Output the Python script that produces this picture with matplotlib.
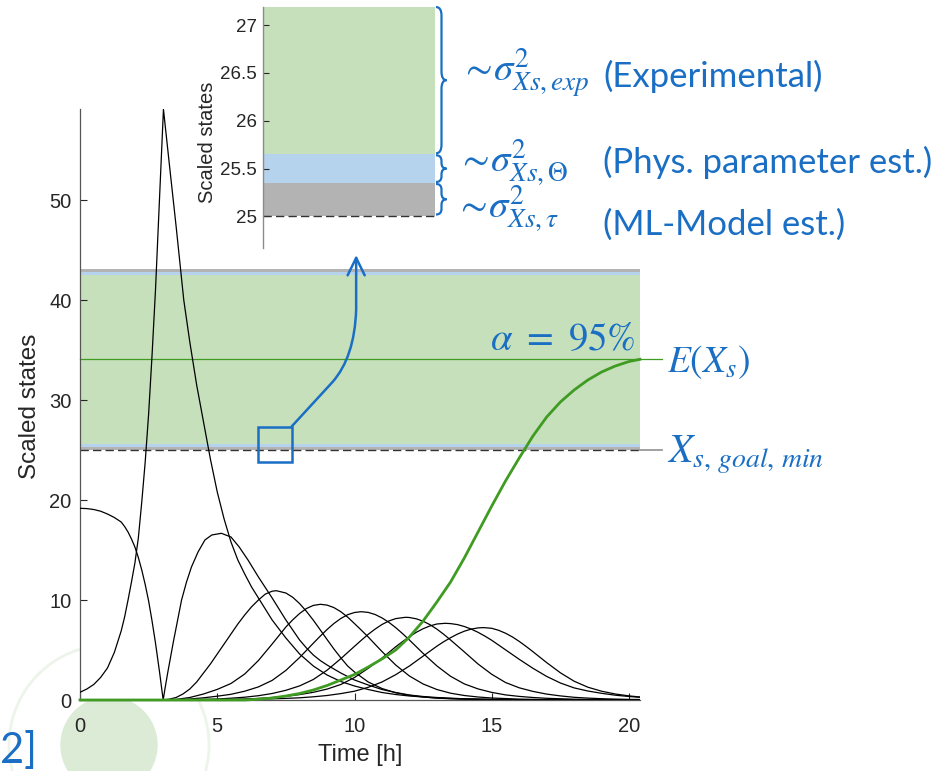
import matplotlib

matplotlib.use("Agg")
import matplotlib.pyplot as plt
from matplotlib.patches import Rectangle, FancyArrowPatch, PathPatch, Ellipse
from matplotlib.path import Path
from matplotlib.transforms import blended_transform_factory

# ---- data ----
# spike state (black)
spike_t = [0, 0.25, 0.5, 0.75, 1.0, 1.25, 1.5, 1.625, 1.75, 1.875,
           2.0, 2.125, 2.25, 2.375, 2.5, 2.625, 2.75, 2.875, 3.04, 3.25,
           3.5, 3.78, 4.0, 4.25, 4.5, 4.75, 5.0, 5.25, 5.5, 5.75,
           6.0, 6.25, 6.5, 6.75, 7.0, 7.25, 7.5, 7.75, 8.0, 8.5,
           9.0, 9.5, 10.0, 10.5, 11.0, 11.5, 12.0, 13.0, 14.0, 15.0,
           16.0, 18.0, 20.4]
spike_y = [0.77, 1.1, 1.55, 2.25, 3.2, 4.75, 6.9, 8.3, 10.0, 11.8,
           13.7, 16.2, 19.8, 23.8, 28.6, 34.5, 41.0, 48.8, 59.07, 53.7,
           47.4, 40.0, 35.8, 31.5, 27.8, 24.1, 20.8, 18.1, 15.8, 14.0,
           12.6, 11.3, 10.2, 9.1, 8.0, 7.1, 6.2, 5.4, 4.6, 3.4,
           2.5, 1.85, 1.4, 1.05, 0.75, 0.55, 0.4, 0.2, 0.1, 0.05,
           0.03, 0.01, 0.0]

# first state, reset at t = 3 (black)
first_t = [0, 0.25, 0.5, 0.75, 1.0, 1.25, 1.5, 1.625, 1.75, 1.875,
           2.0, 2.125, 2.25, 2.375, 2.5, 2.625, 2.75, 2.9, 3.03, 3.1,
           3.2, 3.3, 3.4, 3.55, 3.7, 3.88, 4.06, 4.3, 4.55, 4.8,
           5.15, 5.5, 5.8, 6.12, 6.5, 6.75, 7.0, 7.25, 7.5, 7.75,
           8.0, 8.25, 8.5, 8.75, 9.0, 9.5, 10.0, 10.5, 11.0, 11.5,
           12.0, 12.5, 13.0, 14.0, 15.0, 16.0, 18.0, 20.4]
first_y = [19.17, 19.14, 19.05, 18.88, 18.6, 18.25, 17.8, 17.35, 16.8, 16.1,
           15.3, 14.25, 13.0, 11.55, 9.9, 7.9, 5.7, 2.75, 0.0, 1.2,
           2.8, 4.3, 5.8, 7.9, 10.0, 11.8, 13.3, 14.8, 16.0, 16.5,
           16.67, 16.3, 15.3, 14.0, 12.3, 11.25, 10.2, 9.1, 8.0, 7.0,
           6.0, 5.2, 4.5, 3.95, 3.5, 2.7, 2.0, 1.5, 1.05, 0.75,
           0.5, 0.35, 0.25, 0.12, 0.06, 0.03, 0.01, 0.0]

# later states (black)
state_d_t = [3.0, 3.25, 3.5, 3.75, 4.0, 4.25, 4.5, 4.75, 5.0, 5.25, 5.5, 5.75,
             6.0, 6.25, 6.5, 6.75, 7.0, 7.15, 7.5, 7.75, 8.0, 8.25, 8.5, 8.75,
             9.0, 9.25, 9.5, 9.75, 10.0, 10.5, 11.0, 11.5, 12.0, 12.5, 13.0, 13.5,
             14.0, 15.0, 16.0, 17.0, 18.0, 20.4]
state_d_y = [0, 0.08, 0.25, 0.6, 1.1, 1.8, 2.7, 3.6, 4.6, 5.6, 6.6, 7.6,
             8.5, 9.32, 10.0, 10.59, 10.88, 10.93, 10.7, 10.27, 9.64, 8.86, 7.98, 7.02,
             6.05, 5.1, 4.22, 3.4, 2.8, 1.8, 1.15, 0.72, 0.47, 0.3, 0.19, 0.12,
             0.085, 0.045, 0.025, 0.012, 0.006, 0.001]

state_e_t = [3.0, 3.5, 4.0, 4.5, 5.0, 5.5, 6.0, 6.5, 7.0,
             7.25, 7.5, 7.75, 8.0, 8.25, 8.5, 8.76,
             9.0, 9.25, 9.5, 9.75, 10.0, 10.25, 10.5, 10.75, 11.0,
             11.5, 12.0, 12.5, 13.0, 13.5, 14.0, 14.5, 15.0,
             16.0, 17.0, 18.0, 20.4]
state_e_y = [0, 0.06, 0.25, 0.6, 1.06, 1.65, 2.6, 3.95, 5.6,
             6.45, 7.3, 8.02, 8.65, 9.15, 9.46, 9.57,
             9.49, 9.24, 8.83, 8.29, 7.64, 6.98, 6.3, 5.57, 4.85,
             3.5, 2.4, 1.6, 1.05, 0.68, 0.45, 0.3, 0.2,
             0.09, 0.04, 0.02, 0.004]

state_f_t = [3.0, 3.5, 4.0, 4.5, 5.0, 5.5, 6.0, 6.5, 7.0, 7.5, 8.0, 8.5,
             8.75, 9.0, 9.25, 9.5, 9.75, 10.0, 10.24,
             10.5, 10.75, 11.0, 11.25, 11.5, 11.75, 12.0,
             12.5, 13.0, 13.5, 14.0, 14.5, 15.0, 15.5, 16.0, 16.5, 17.0,
             18.0, 19.0, 20.4]
state_f_y = [0, 0.02, 0.1, 0.22, 0.38, 0.57, 0.88, 1.31, 1.96, 2.96, 4.25, 5.68,
             6.38, 7.05, 7.65, 8.15, 8.53, 8.75, 8.83,
             8.76, 8.55, 8.21, 7.77, 7.24, 6.64, 6.0,
             4.66, 3.41, 2.37, 1.61, 1.11, 0.76, 0.51, 0.36, 0.25, 0.17,
             0.08, 0.04, 0.015]

state_g_t = [3.0, 4.0, 5.0, 5.5, 6.0, 6.5, 7.0, 7.5, 8.0, 8.5, 9.0, 9.5, 10.0,
             10.25, 10.5, 10.75, 11.0, 11.25, 11.5, 11.86,
             12.0, 12.25, 12.5, 12.75, 13.0, 13.25, 13.5,
             14.0, 14.5, 15.0, 15.5, 16.0, 16.5, 17.0, 17.5, 18.0, 18.5, 19.0, 19.5, 20.0, 20.4]
state_g_y = [0, 0.03, 0.1, 0.18, 0.28, 0.43, 0.65, 0.97, 1.41, 2.05, 2.98, 4.13, 5.37,
             5.98, 6.57, 7.09, 7.55, 7.9, 8.14, 8.27,
             8.25, 8.12, 7.88, 7.53, 7.09, 6.57, 6.0,
             4.81, 3.6, 2.57, 1.75, 1.22, 0.86, 0.59, 0.41, 0.27, 0.19, 0.13, 0.09, 0.06, 0.05]

state_h_t = [3.0, 4.0, 5.0, 6.0, 6.5, 7.0, 7.5, 8.0, 8.5, 9.0, 9.5, 10.0, 10.5, 11.0, 11.5,
             11.75, 12.0, 12.25, 12.5, 12.75, 13.0, 13.3,
             13.5, 13.75, 14.0, 14.25, 14.5, 14.75, 15.0,
             15.5, 16.0, 16.5, 17.0, 17.5, 18.0, 18.5, 19.0, 19.5, 20.0, 20.4]
state_h_y = [0, 0.01, 0.03, 0.1, 0.16, 0.25, 0.37, 0.54, 0.77, 1.09, 1.55, 2.25, 3.17, 4.19, 5.32,
             5.84, 6.33, 6.77, 7.13, 7.41, 7.6, 7.67,
             7.64, 7.54, 7.35, 7.09, 6.77, 6.39, 5.97,
             5.02, 4.07, 3.17, 2.36, 1.7, 1.21, 0.9, 0.67, 0.48, 0.35, 0.27]

state_i_t = [3.0, 5.0, 6.0, 7.0, 7.5, 8.0, 8.5, 9.0, 9.5, 10.0, 10.5, 11.0, 11.5, 12.0, 12.5, 13.0,
             13.25, 13.5, 13.75, 14.0, 14.25, 14.5, 14.7,
             15.0, 15.25, 15.5, 15.75, 16.0, 16.25, 16.5,
             17.0, 17.5, 18.0, 18.5, 19.0, 19.5, 20.0, 20.4]
state_i_y = [0, 0.015, 0.05, 0.12, 0.16, 0.22, 0.32, 0.45, 0.64, 0.88, 1.27, 1.8, 2.53, 3.4, 4.39, 5.38,
             5.83, 6.23, 6.59, 6.88, 7.09, 7.21, 7.24,
             7.17, 6.97, 6.68, 6.31, 5.86, 5.36, 4.83,
             3.74, 2.72, 1.88, 1.28, 0.88, 0.6, 0.41, 0.3]

# product state (green)
product_t = [0, 3.0, 6.0, 6.5, 7.0, 7.5, 8.0, 8.5, 9.0, 9.5, 10.0, 10.5, 11.0, 11.5, 12.0, 12.5,
             13.0, 13.5, 14.0, 14.5, 15.0, 15.5, 16.0, 16.5, 17.0, 17.5, 18.0, 18.5, 19.0, 19.5,
             20.0, 20.4]
product_y = [0, 0, 0, 0.08, 0.2, 0.4, 0.65, 1.0, 1.45, 2.0, 2.55, 3.3, 4.1, 5.0, 6.3, 7.9,
             9.8, 11.8, 14.2, 16.8, 19.4, 21.9, 24.2, 26.4, 28.3, 29.8, 31.0, 32.0, 32.8, 33.4,
             33.85, 34.07]

expected_xs = 34.07
goal_min = 25.0
# uncertainty bands (low, high)
ml_bands = [(25.0, 25.35), (42.79, 43.14)]
phys_bands = [(25.35, 25.65), (42.49, 42.79)]
exp_bands = [(25.65, 42.49)]

x_ticks = [0, 5, 10, 15, 20]
y_ticks = [0, 10, 20, 30, 40, 50]
inset_ticks = [25, 25.5, 26, 26.5, 27]
inset_ticklabels = ["25", "25.5", "26", "26.5", "27"]

BLUE = "#1a6fc4"
GREEN = "#3f9b22"
BAND_GREEN = "#c6e0bc"
BAND_BLUE = "#b5d3ec"
BAND_GRAY = "#b3b3b3"
AX_COLOR = "#262626"

W, H = 936, 771


def fx(x):
    return x / W


def fy(y):
    return 1 - y / H


plt.rcParams.update(
    {
        "font.family": "Liberation Sans",
        "mathtext.fontset": "stix",
        "axes.unicode_minus": False,
    }
)

fig = plt.figure(figsize=(W / 100, H / 100), dpi=100)
fig.patch.set_facecolor("white")

# faint slide decoration behind the chart
fig.add_artist(Ellipse((fx(109), fy(745)), 96 / W, 96 / H, transform=fig.transFigure,
                       color="#dcebd6", zorder=-2))
fig.add_artist(Ellipse((fx(109), fy(745)), 200 / W, 200 / H, transform=fig.transFigure,
                       fill=False, edgecolor="#edf4ea", lw=2, zorder=-2))


def draw_bands(axis):
    for lo, hi in exp_bands:
        axis.axhspan(lo, hi, color=BAND_GREEN, lw=0, zorder=0)
    for lo, hi in phys_bands:
        axis.axhspan(lo, hi, color=BAND_BLUE, lw=0, zorder=0)
    for lo, hi in ml_bands:
        axis.axhspan(lo, hi, color=BAND_GRAY, lw=0, zorder=0)


# ---- main axes ----
ax = fig.add_axes([fx(80), fy(700), 560 / W, 591 / H])
draw_bands(ax)
ax.plot([0, 20.4], [goal_min, goal_min], color="#333333", lw=1.0, dashes=(6, 3), zorder=2)
ax.plot([20.4, 21.2], [goal_min, goal_min], color="#9a9a9a", lw=1.3, clip_on=False, zorder=2)
ax.plot([0, 21.2], [expected_xs, expected_xs], color=GREEN, lw=0.9, clip_on=False, zorder=2)

ax.plot(first_t, first_y, color="black", lw=0.9, zorder=3)
ax.plot(spike_t, spike_y, color="black", lw=0.9, zorder=3)
for st, sy in ((state_d_t, state_d_y), (state_e_t, state_e_y), (state_f_t, state_f_y),
               (state_g_t, state_g_y), (state_h_t, state_h_y), (state_i_t, state_i_y)):
    ax.plot(st, sy, color="black", lw=0.9, zorder=3)
ax.plot(product_t, product_y, color=GREEN, lw=2.0, zorder=4, clip_on=False)

ax.set_xlim(0, 20.4)
ax.set_ylim(0, 59.1)
ax.set_xticks(x_ticks)
ax.set_yticks(y_ticks)
ax.tick_params(direction="in", length=5, width=0.8, colors=AX_COLOR, labelsize=14.5)
ax.tick_params(axis="x", pad=12)
ax.tick_params(axis="y", pad=6)
for side in ("top", "right"):
    ax.spines[side].set_visible(False)
for side in ("left", "bottom"):
    ax.spines[side].set_color("#555555")
    ax.spines[side].set_linewidth(0.9)
ax.set_xlabel("Time [h]", fontsize=17, color=AX_COLOR, labelpad=6)
ax.set_ylabel("Scaled states", fontsize=17.5, color=AX_COLOR)
ax.yaxis.set_label_coords(-0.07, 0.497)

# zoom box and curved arrow to the inset
ax.add_patch(Rectangle((6.47, 23.8), 1.24, 3.5, fill=False, edgecolor=BLUE, lw=1.8,
                       zorder=6, clip_on=False))
arrow_path = Path(
    [(7.71, 27.35), (9.2, 31.8), (10.0, 34.3), (10.06, 39.0), (10.06, 44.5)],
    [Path.MOVETO, Path.LINETO, Path.CURVE3, Path.CURVE3, Path.LINETO],
)
ax.add_patch(FancyArrowPatch(path=arrow_path, arrowstyle="->,head_length=0.45,head_width=0.22",
                             mutation_scale=28, color=BLUE, lw=1.8, zorder=6, clip_on=False))

# ---- inset axes ----
ax_in = fig.add_axes([fx(262.7), fy(248), 172.3 / W, 241 / H])
draw_bands(ax_in)
ax_in.plot([6.47, 7.71], [goal_min, goal_min], color="#333333", lw=1.0, dashes=(6, 3), zorder=2)
ax_in.set_xlim(6.47, 7.71)
ax_in.set_ylim(24.67, 27.19)
ax_in.set_xticks([])
ax_in.set_yticks(inset_ticks)
ax_in.set_yticklabels(inset_ticklabels)
ax_in.tick_params(direction="in", length=4, width=0.8, colors=AX_COLOR, labelsize=13.5, pad=4)
for side in ("top", "right", "bottom"):
    ax_in.spines[side].set_visible(False)
ax_in.spines["left"].set_color("#8c8c8c")
ax_in.spines["left"].set_linewidth(1.0)
ax_in.set_ylabel("Scaled states", fontsize=14.5, color=AX_COLOR)
ax_in.yaxis.set_label_coords(-0.265, 0.44)

# braces right of the inset
brace_tf = blended_transform_factory(fig.transFigure, ax_in.transData)


def brace(y0, y1, r):
    xl, xm, xt = fx(436), fx(441.5), fx(446.5)
    ym = 0.5 * (y0 + y1)
    verts = [(xl, y1), (xm, y1), (xm, y1 - r), (xm, ym + r), (xm, ym), (xt, ym),
             (xm, ym), (xm, ym - r), (xm, y0 + r), (xm, y0), (xl, y0)]
    codes = [Path.MOVETO, Path.CURVE3, Path.CURVE3, Path.LINETO, Path.CURVE3, Path.CURVE3,
             Path.CURVE3, Path.CURVE3, Path.LINETO, Path.CURVE3, Path.CURVE3]
    fig.add_artist(PathPatch(Path(verts, codes), transform=brace_tf, fill=False,
                             edgecolor=BLUE, lw=1.6, clip_on=False))


brace(25.66, 27.19, 0.09)
brace(25.36, 25.64, 0.06)
brace(25.02, 25.34, 0.06)

# ---- annotation texts ----
math_kw = dict(color=BLUE, fontsize=28, ha="left", va="baseline")
fig.text(fx(460), fy(82), r"$\sim\!\sigma^2_{Xs,exp}$", **math_kw)
fig.text(fx(457), fy(172), r"$\sim\!\sigma^2_{Xs,\Theta}$", **math_kw)
fig.text(fx(455), fy(218), r"$\sim\!\sigma^2_{Xs,\tau}$", **math_kw)

label_kw = dict(color=BLUE, fontsize=25, ha="left", va="baseline", family="Lato")
fig.text(fx(603), fy(87), "(Experimental)", **label_kw)
fig.text(fx(603), fy(173), "(Phys. parameter est.)", **label_kw)
fig.text(fx(603), fy(235), "(ML-Model est.)", **label_kw)

fig.text(fx(636), fy(350), r"$\alpha\ =\ 95\%$", color=BLUE, fontsize=28, ha="right", va="baseline")
fig.text(fx(667), fy(372), r"$E(X_s)$", color=BLUE, fontsize=27, ha="left", va="baseline")
fig.text(fx(667), fy(463), r"$X_{s,\,goal,\,min}$", color=BLUE, fontsize=28.5, ha="left", va="baseline")

fig.text(fx(0), fy(763), "2]", color=BLUE, fontsize=30, ha="left", va="baseline", family="Lato")

fig.savefig("out.png", dpi=100)
